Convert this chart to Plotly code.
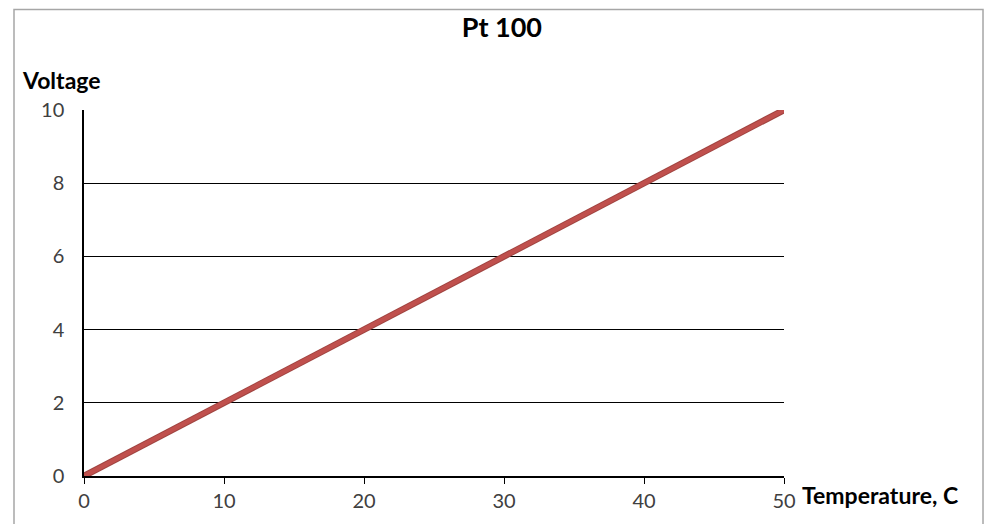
import plotly.graph_objects as go

temperature = [0, 10, 20, 30, 40, 50]
voltage = [0, 2, 4, 6, 8, 10]
x_ticks = [0, 10, 20, 30, 40, 50]
y_ticks = [0, 2, 4, 6, 8, 10]

tick_font = dict(family='Lato, Open Sans, sans-serif', size=20, color='#404040')
label_font = dict(family='Lato, Open Sans, sans-serif', size=23, color='#000000')

fig = go.Figure()

# darker edge under the main line, like the Excel style
fig.add_trace(go.Scatter(
    x=temperature, y=voltage, mode='lines',
    line=dict(color='#A04441', width=6.5),
    hoverinfo='skip', showlegend=False, cliponaxis=False
))
fig.add_trace(go.Scatter(
    x=temperature, y=voltage, mode='lines',
    line=dict(color='#C0504D', width=4.5),
    name='Pt 100', showlegend=False, cliponaxis=False,
    hovertemplate='%{x} C<br>%{y} V<extra></extra>'
))

# page body has an 8px margin; keep the figure small enough to avoid scrollbars
fig.update_layout(
    title=dict(
        text='<b>Pt 100</b>',
        font=dict(family='Lato, Open Sans, sans-serif', size=27, color='#000000'),
        x=0.506, xanchor='center', y=0.963, yanchor='middle'
    ),
    width=976,
    height=516,
    margin=dict(l=76, r=200, t=102, b=46),
    plot_bgcolor='white',
    paper_bgcolor='white',
    font=dict(family='Lato, Open Sans, sans-serif', size=16, color='#404040'),
    showlegend=False
)

fig.update_xaxes(
    range=[0, 50], tickvals=x_ticks, tickfont=tick_font,
    showgrid=False, zeroline=False,
    showline=True, linecolor='#000000', linewidth=1.5,
    ticks='outside', ticklen=6, tickcolor='#000000', tickwidth=1,
    ticklabelstandoff=0
)
fig.update_yaxes(
    range=[0, 10], tickvals=y_ticks, tickfont=tick_font,
    showgrid=True, gridcolor='#000000', gridwidth=1,
    zeroline=False,
    showline=True, linecolor='#000000', linewidth=1.5,
    ticks='', ticklabelstandoff=14
)

# chart border
fig.add_shape(
    type='rect', xref='paper', yref='paper',
    x0=-0.1, x1=1.2843, y0=-0.2, y1=1.2745,
    line=dict(color='#A6A6A6', width=1.5), layer='above'
)

fig.add_annotation(
    text='<b>Voltage</b>', xref='paper', yref='paper',
    x=-0.091, y=1.0815, xanchor='left', yanchor='middle',
    showarrow=False, font=label_font
)
fig.add_annotation(
    text='<b>Temperature, C</b>', xref='paper', yref='paper',
    x=1.0229, y=-0.0516, xanchor='left', yanchor='middle',
    showarrow=False, font=label_font
)

fig.write_html('out.html')
